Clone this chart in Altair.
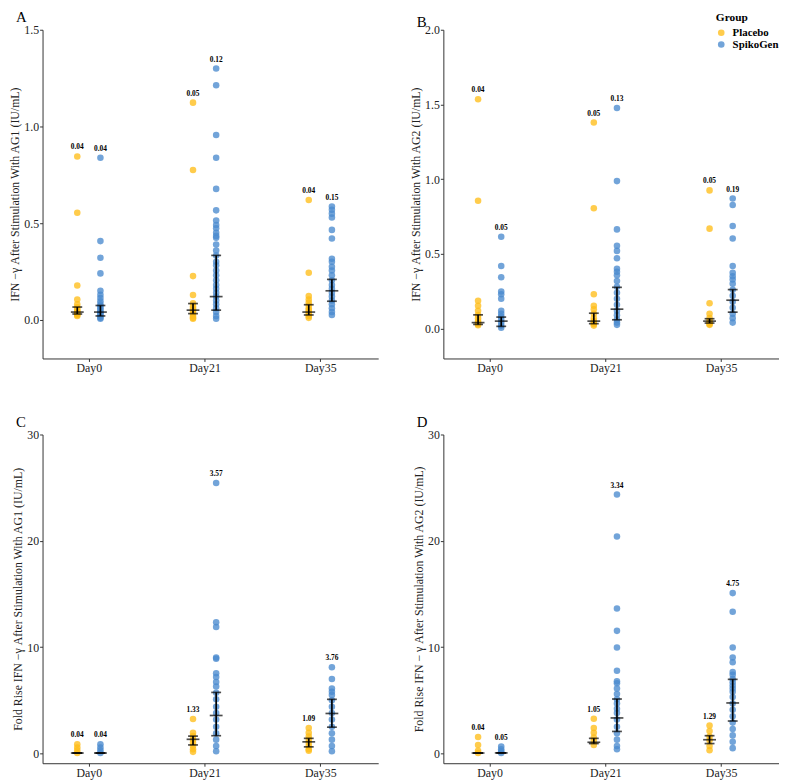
import altair as alt
import pandas as pd

DAYS = ["Day0", "Day21", "Day35"]
GROUPS = ["Placebo", "SpikoGen"]
COLORS = ["#FFBE1A", "#4A8ACE"]

# ---------- Panel A : IFN-gamma AG1 ----------
A_PLACEBO = [
    [0.845, 0.554, 0.177, 0.105, 0.08, 0.065, 0.055, 0.045, 0.04, 0.035, 0.03, 0.025, 0.02],
    [1.123, 0.775, 0.226, 0.128, 0.085, 0.07, 0.06, 0.05, 0.04, 0.03, 0.02, 0.01, 0.005],
    [0.62, 0.243, 0.123, 0.105, 0.09, 0.075, 0.06, 0.05, 0.04, 0.03, 0.02, 0.01],
]
A_SPIKO = [
    [0.838, 0.407, 0.321, 0.24, 0.15, 0.13, 0.113, 0.096, 0.08, 0.07, 0.06, 0.05, 0.04, 0.035, 0.03, 0.02, 0.01, 0.005],
    [1.30, 1.213, 0.956, 0.838, 0.677, 0.566, 0.514, 0.49, 0.473, 0.45, 0.434, 0.424, 0.389, 0.358, 0.333, 0.30,
     0.282, 0.255, 0.23, 0.205, 0.18, 0.16, 0.14, 0.12, 0.10, 0.08, 0.06, 0.04, 0.02, 0.005],
    [0.586, 0.569, 0.549, 0.529, 0.465, 0.42, 0.316, 0.30, 0.274, 0.255, 0.23, 0.205, 0.18, 0.16, 0.14, 0.12,
     0.10, 0.08, 0.06, 0.04, 0.025],
]
A_PLACEBO_MED = [0.04, 0.05, 0.04]
A_PLACEBO_LO = [0.03, 0.032, 0.025]
A_PLACEBO_HI = [0.066, 0.084, 0.078]
A_SPIKO_MED = [0.04, 0.12, 0.15]
A_SPIKO_LO = [0.02, 0.05, 0.096]
A_SPIKO_HI = [0.074, 0.333, 0.209]

# ---------- Panel B : IFN-gamma AG2 ----------
B_PLACEBO = [
    [1.535, 0.855, 0.186, 0.153, 0.12, 0.09, 0.07, 0.05, 0.04, 0.03, 0.022],
    [1.379, 0.805, 0.23, 0.153, 0.13, 0.10, 0.07, 0.05, 0.04, 0.03, 0.02],
    [0.925, 0.669, 0.169, 0.099, 0.07, 0.05, 0.04, 0.03, 0.025],
]
B_SPIKO = [
    [0.614, 0.419, 0.344, 0.248, 0.23, 0.2, 0.12, 0.10, 0.08, 0.06, 0.04, 0.02, 0.005],
    [1.476, 0.987, 0.664, 0.555, 0.52, 0.471, 0.401, 0.38, 0.357, 0.318, 0.28, 0.24, 0.2, 0.16, 0.12, 0.09,
     0.06, 0.04, 0.025],
    [0.871, 0.827, 0.686, 0.603, 0.419, 0.373, 0.35, 0.329, 0.30, 0.26, 0.22, 0.18, 0.14, 0.10, 0.07, 0.04],
]
B_PLACEBO_MED = [0.04, 0.05, 0.05]
B_PLACEBO_LO = [0.028, 0.033, 0.037]
B_PLACEBO_HI = [0.092, 0.103, 0.066]
B_SPIKO_MED = [0.05, 0.13, 0.19]
B_SPIKO_LO = [0.015, 0.059, 0.11]
B_SPIKO_HI = [0.077, 0.276, 0.261]

# ---------- Panel C : Fold rise AG1 ----------
C_PLACEBO = [
    [0.86, 0.55, 0.3, 0.05],
    [3.24, 1.94, 1.63, 1.3, 1.0, 0.7, 0.4, 0.15],
    [2.4, 1.94, 1.6, 1.3, 1.0, 0.7, 0.4, 0.25],
]
C_SPIKO = [
    [0.86, 0.55, 0.3, 0.05],
    [25.44, 12.33, 11.9, 9.03, 8.9, 7.55, 7.2, 6.72, 6.3, 5.7, 5.1, 4.4, 3.8, 3.2, 2.5, 1.9, 1.3, 0.7, 0.2],
    [8.11, 7.0, 6.1, 5.8, 5.5, 5.0, 4.4, 3.8, 3.2, 2.5, 1.9, 1.3, 0.7, 0.2],
]
C_PLACEBO_MED = [0.04, 1.33, 1.09]
C_PLACEBO_LO = [0.04, 0.8, 0.62]
C_PLACEBO_HI = [0.04, 1.63, 1.42]
C_SPIKO_MED = [0.04, 3.57, 3.76]
C_SPIKO_LO = [0.04, 1.67, 2.47]
C_SPIKO_HI = [0.04, 5.74, 5.09]

# ---------- Panel D : Fold rise AG2 ----------
D_PLACEBO = [
    [1.54, 0.8, 0.25, 0.05],
    [3.27, 2.4, 1.94, 1.5, 1.2, 0.8],
    [2.62, 2.1, 1.6, 1.25, 0.7, 0.3],
]
D_SPIKO = [
    [0.65, 0.4, 0.2, 0.05],
    [24.36, 20.41, 13.63, 11.53, 9.96, 7.77, 6.78, 6.6, 6.1, 5.6, 5.1, 4.7, 4.2, 3.8, 3.2, 2.5, 1.9, 1.3, 0.7, 0.4],
    [15.08, 13.32, 9.96, 9.03, 8.57, 7.65, 7.4, 7.0, 6.7, 6.4, 6.1, 5.8, 5.3, 4.7, 4.1, 3.5, 2.9, 2.3, 1.7, 1.1, 0.5],
]
D_PLACEBO_MED = [0.04, 1.05, 1.29]
D_PLACEBO_LO = [0.04, 0.93, 0.93]
D_PLACEBO_HI = [0.04, 1.42, 1.67]
D_SPIKO_MED = [0.05, 3.34, 4.75]
D_SPIKO_LO = [0.05, 2.07, 3.05]
D_SPIKO_HI = [0.05, 5.12, 6.97]

FONT = "Liberation Serif"
W, H = 340, 333


def build_frames(plac, spiko, pmed, plo, phi, smed, slo, shi):
    pts, stats = [], []
    for g, series, med, lo, hi in [("Placebo", plac, pmed, plo, phi), ("SpikoGen", spiko, smed, slo, shi)]:
        for i, vals in enumerate(series):
            for v in vals:
                pts.append({"day": i + 1, "group": g, "value": v})
            stats.append({"day": i + 1, "group": g, "med": med[i], "lo": lo[i], "hi": hi[i],
                          "top": max(vals), "label": f"{med[i]:.2f}"})
    return pd.DataFrame(pts), pd.DataFrame(stats)


def panel(letter, title, plac, spiko, pmed, plo, phi, smed, slo, shi, ydomain, yticks, yfmt,
          legend=None, title_dy=0):
    pts, stats = build_frames(plac, spiko, pmed, plo, phi, smed, slo, shi)
    xcalc = "datum.day + (datum.group == 'Placebo' ? -0.1 : 0.1)"
    xenc = alt.X("xpos:Q", scale=alt.Scale(domain=[0.6, 3.5], nice=False, zero=False),
                 axis=alt.Axis(title=None, values=[1, 2, 3], grid=False,
                               labelExpr="datum.value == 1 ? 'Day0' : datum.value == 2 ? 'Day21' : 'Day35'"))
    yscale = alt.Scale(domain=ydomain, nice=False, zero=False)
    yaxis = alt.Axis(title=title, values=yticks, format=yfmt, grid=False)

    base_p = alt.Chart(pts).transform_calculate(xpos=xcalc)
    base_s = alt.Chart(stats).transform_calculate(xpos=xcalc)

    points = base_p.mark_circle(size=44, opacity=0.78).encode(
        x=xenc,
        y=alt.Y("value:Q", scale=yscale, axis=yaxis),
        color=alt.Color("group:N", scale=alt.Scale(domain=GROUPS, range=COLORS), legend=legend),
    )
    vrule = base_s.mark_rule(color="black", strokeWidth=1.7).encode(
        x="xpos:Q", y="lo:Q", y2="hi:Q")
    cap_lo = base_s.mark_tick(color="black", orient="horizontal", size=10, thickness=1.7).encode(
        x="xpos:Q", y="lo:Q")
    cap_hi = base_s.mark_tick(color="black", orient="horizontal", size=10, thickness=1.7).encode(
        x="xpos:Q", y="hi:Q")
    mid = base_s.mark_tick(color="black", orient="horizontal", size=13, thickness=1.7).encode(
        x="xpos:Q", y="med:Q")
    labels = base_s.mark_text(font=FONT, fontWeight="bold", fontSize=7.5, baseline="middle", dy=-9,
                              color="black").encode(x="xpos:Q", y="top:Q", text="label:N")
    return alt.layer(points, vrule, cap_lo, cap_hi, mid, labels).properties(
        width=W, height=H,
        title=alt.Title(letter, anchor="start", frame="group", dx=-27, dy=title_dy, fontSize=15, font=FONT,
                        fontWeight="normal", offset=-1, color="black"),
    )


legend_b = alt.Legend(title="Group", orient="none", legendX=276, legendY=-18,
                      titleFont=FONT, titleFontWeight="bold", titleFontSize=11.5,
                      labelFont=FONT, labelFontWeight="bold", labelFontSize=11, symbolType="circle",
                      symbolSize=45, rowPadding=0, titlePadding=4, labelColor="black", titleColor="black",
                      labelOffset=6)

pA = panel("A", "IFN −γ After Stimulation With AG1 (IU/mL)", A_PLACEBO, A_SPIKO,
           A_PLACEBO_MED, A_PLACEBO_LO, A_PLACEBO_HI, A_SPIKO_MED, A_SPIKO_LO, A_SPIKO_HI,
           [-0.2, 1.5], [0, 0.5, 1.0, 1.5], ".1f")
pB = panel("B", "IFN −γ After Stimulation With AG2 (IU/mL)", B_PLACEBO, B_SPIKO,
           B_PLACEBO_MED, B_PLACEBO_LO, B_PLACEBO_HI, B_SPIKO_MED, B_SPIKO_LO, B_SPIKO_HI,
           [-0.2, 2.0], [0, 0.5, 1.0, 1.5, 2.0], ".1f", legend=legend_b, title_dy=17)
pC = panel("C", "Fold Rise IFN −γ After Stimulation With AG1 (IU/mL)", C_PLACEBO, C_SPIKO,
           C_PLACEBO_MED, C_PLACEBO_LO, C_PLACEBO_HI, C_SPIKO_MED, C_SPIKO_LO, C_SPIKO_HI,
           [-0.92, 30], [0, 10, 20, 30], "d")
pD = panel("D", "Fold Rise IFN −  γ After Stimulation With AG2 (IU/mL)", D_PLACEBO, D_SPIKO,
           D_PLACEBO_MED, D_PLACEBO_LO, D_PLACEBO_HI, D_SPIKO_MED, D_SPIKO_LO, D_SPIKO_HI,
           [-0.92, 30], [0, 10, 20, 30], "d")

chart = alt.concat(pA, pB, pC, pD, columns=2, spacing={"row": 42, "column": 32}).resolve_scale(
    color="independent").resolve_legend(color="independent").properties(
    padding={"left": 1, "top": -3, "right": 0, "bottom": 0}
).configure_view(stroke=None).configure_axis(
    labelFont=FONT, titleFont=FONT, labelFontSize=12, titleFontSize=12, titleFontWeight="normal",
    labelColor="#222", titleColor="#222", domainColor="#333", tickColor="#333", tickSize=3,
    labelPadding=1, titlePadding=2, domainWidth=1,
)

chart.save("out.html", embed_options={"renderer": "svg", "actions": False})
